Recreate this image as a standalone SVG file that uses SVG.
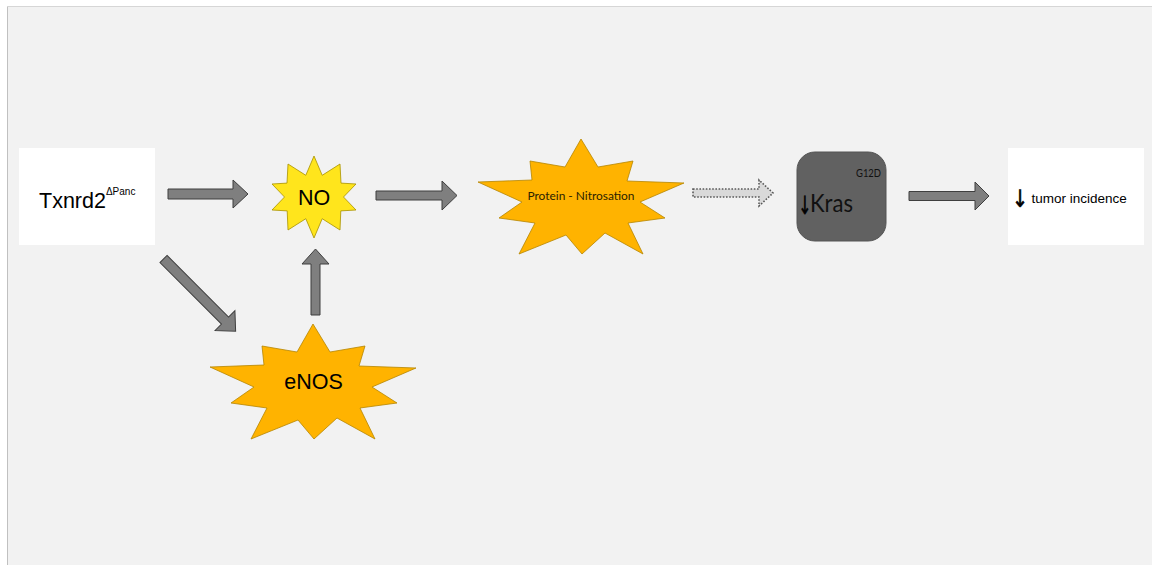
<svg xmlns="http://www.w3.org/2000/svg" xmlns:xlink="http://www.w3.org/1999/xlink" width="1152" height="565" viewBox="0 0 1152 565">
<style>
.box{fill:#ffffff;stroke:none}
.arrow{fill:#7f7f7f;stroke:#3f3f3f;stroke-width:1}
.dash{fill:#d9d9d9;stroke:#595959;stroke-width:1.6;stroke-dasharray:1.6 1.6}
.burst{fill:#FFB300;stroke:#B58500;stroke-width:0.8}
.star{fill:#FFE51C;stroke:#A89200;stroke-width:0.8}
.arial{font-family:"Liberation Sans",Arial,sans-serif;fill:#000}
.cal{font-family:Lato,"Open Sans","Liberation Sans",sans-serif}
.down{font-family:"DejaVu Sans",sans-serif;fill:#000;stroke:#000;stroke-width:0.6}
</style>
<defs>
<polygon id="explosion" class="burst" points="103,0 120,28 155,22 149,42 206,44 162,63 187,79 150,84 165,115 127,94 104,115 88,96 41,115 57,84 21,79 44,63 0,43 54,41 52,22 87,28"/>
</defs>
<rect x="0" y="0" width="1152" height="565" fill="#ffffff"/>
<rect x="7" y="6" width="1150" height="570" fill="#f2f2f2"/>
<line x1="7.5" y1="6" x2="7.5" y2="565" stroke="#c0c0c0" stroke-width="1"/>
<line x1="7" y1="6.5" x2="1152" y2="6.5" stroke="#d6d6d6" stroke-width="1"/>

<g id="connectors">
<polygon class="arrow" points="168,189 233,189 233,180 248,194 233,208 233,199 168,199"/>
<polygon class="arrow" points="376,191 442,191 442,181 457,195.5 442,210 442,200 376,200"/>
<polygon class="arrow" points="909,191.5 975,191.5 975,182 989,196 975,210 975,200.5 909,200.5"/>
<polygon class="arrow" points="311,315 311,264 302,264 315.5,249 329,264 320,264 320,315"/>
<polygon class="arrow" transform="translate(163.5,259) rotate(45)" points="0,-5 87,-5 87,-14 102,0 87,14 87,5 0,5"/>
<polygon class="dash" points="693,189 759,189 759,180 773,193 759,206 759,197 693,197"/>
</g>

<g id="txnrd2">
<rect class="box" x="19" y="148" width="136" height="97"/>
<text class="arial" x="39" y="208" font-size="21.5">Txnrd2<tspan font-size="10" dy="-13">ΔPanc</tspan></text>
</g>

<g id="no">
<polygon class="star" points="314,156 322.2,175.3 340,164 341,183.1 356,184 343.5,197 356,210 340.8,210.9 340,230 322.2,218.7 314,238 305.8,218.7 288,230 287.2,210.9 272,210 284.5,197 272,184 287,183.1 288,164 305.8,175.3"/>
<text class="arial" x="314" y="205" font-size="21.5" text-anchor="middle">NO</text>
</g>

<g id="enos">
<use xlink:href="#explosion" transform="translate(210,324)"/>
<text class="arial" x="313.5" y="389" font-size="21.5" text-anchor="middle">eNOS</text>
</g>

<g id="protein">
<use xlink:href="#explosion" transform="translate(478,139)"/>
<text class="cal" x="581" y="200" font-size="12" fill="#2b2200" text-anchor="middle" textLength="107" lengthAdjust="spacingAndGlyphs">Protein - Nitrosation</text>
</g>

<g id="kras">
<rect x="797" y="152" width="89" height="89" rx="18" ry="18" fill="#616161" stroke="#555" stroke-width="1"/>
<text class="down" transform="translate(805,214) scale(0.62,1)" x="0" y="0" font-size="25" text-anchor="middle">↓</text>
<text class="cal" x="810" y="212" font-size="25" fill="#111" textLength="43" lengthAdjust="spacingAndGlyphs">Kras</text>
<text class="cal" x="856" y="177" font-size="11" fill="#111" textLength="25" lengthAdjust="spacingAndGlyphs">G12D</text>
</g>

<g id="tumor">
<rect class="box" x="1008" y="148" width="136" height="97"/>
<text class="down" transform="translate(1020,207) scale(0.8,1)" x="0" y="0" font-size="24" text-anchor="middle">↓</text>
<text class="arial" x="1031.5" y="202.5" font-size="13.5">tumor incidence</text>
</g>
</svg>
